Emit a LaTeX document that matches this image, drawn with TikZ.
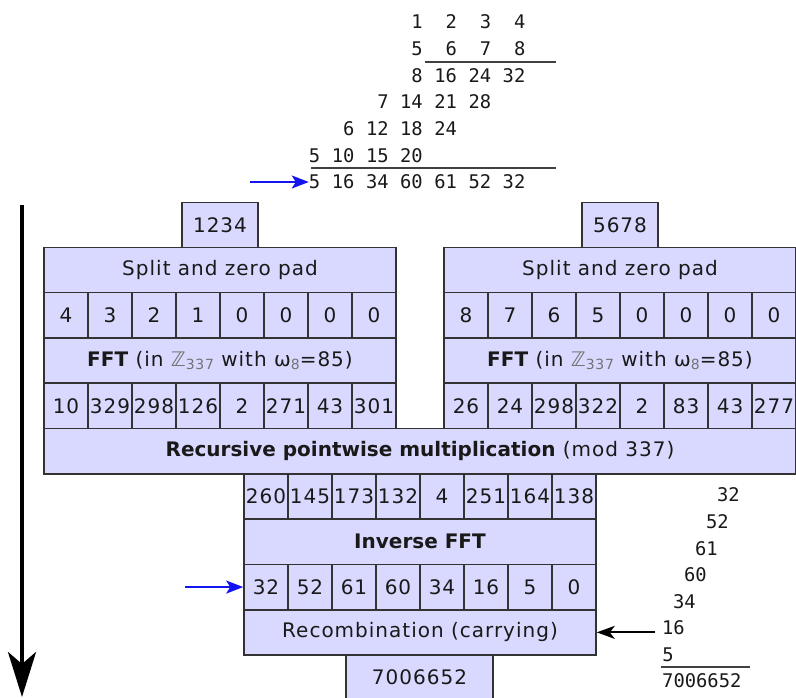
\documentclass[tikz,border=0pt]{standalone}
\usepackage{fontspec}
\setmainfont[LetterSpace=5, BoldFeatures={LetterSpace=0}]{DejaVu Sans}
\newfontfamily\digitfont{DejaVu Sans Mono}
\usetikzlibrary{arrows.meta}

\definecolor{boxblue}{RGB}{217,217,255}
\definecolor{pointblue}{RGB}{20,20,240}

\newcommand\lowtext[1]{\raisebox{-0.35ex}{\fontsize{14}{14}\selectfont #1}}
\newcommand\fftlabel{\textbf{FFT} (in {\color{black!55}ℤ\lowtext{337}} with ω{\color{black!55}\lowtext{8}}=85)}

\tikzset{
  box/.style={draw=black!80, fill=boxblue, line width=1.6pt, inner sep=0pt,
    font=\fontsize{20}{22}\selectfont, text=black!90},
  cell/.style={box, minimum width=44pt, minimum height=45.3pt},
  bar/.style={box, minimum width=352pt, minimum height=45.3pt},
  num/.style={font=\digitfont\fontsize{18.8}{20}\selectfont, inner sep=0pt, text=black!90},
  rule/.style={line width=1.3pt, draw=black!75},
  bluearrow/.style={line width=2pt, draw=pointblue, -{Stealth[length=17pt,width=13pt,inset=4pt]}},
  carryarrow/.style={line width=2pt, -{Stealth[length=18pt,width=13pt,inset=5pt]}},
  timearrow/.style={line width=4pt, -{Stealth[length=45pt,width=28pt,inset=12pt]}},
}

\begin{document}
\begin{tikzpicture}[x=1pt,y=-1pt]
    \useasboundingbox (0,0) rectangle (796,697);

    % Long multiplication by hand
    \foreach \r/\y/\c/\vals in {1/22/3/{1,2,3,4}, 2/48.7/3/{5,6,7,8},
        3/75.3/3/{8,16,24,32}, 4/102/2/{7,14,21,28}, 5/128.7/1/{6,12,18,24},
        6/155.3/0/{5,10,15,20}, 7/182/0/{5,16,34,60,61,52,32}}
      \foreach \v [count=\j from \c] in \vals
        \node[num, anchor=east] (m\r-\j) at (320.5+34.17*\j,\y) {\v};
    \draw[rule] (425,62) -- (556,62);
    \draw[rule] (311,168) -- (556,168);
    \coordinate (handin) at (250,182);
    \draw[bluearrow] (handin) -- (m7-0.west);

    % Time arrow
    \coordinate (tstart) at (22,205);
    \coordinate (tend) at (22,697);
    \draw[timearrow] (tstart) -- (tend);

    % First factor
    \node[cell, minimum width=76pt] (inA) at (220,225) {1234};
    \node[bar] (splitA) at (220,270) {Split and zero pad};
    \foreach \v [count=\i from 0] in {4,3,2,1,0,0,0,0}
      \node[cell] (a\i) at (66+44*\i,315.25) {\v};
    \node[bar] (fftA) at (220,360.55) {\fftlabel};
    \foreach \v [count=\i from 0] in {10,329,298,126,2,271,43,301}
      \node[cell] (fa\i) at (66+44*\i,405.85) {\v};

    % Second factor
    \node[cell, minimum width=76pt] (inB) at (620,225) {5678};
    \node[bar] (splitB) at (620,270) {Split and zero pad};
    \foreach \v [count=\i from 0] in {8,7,6,5,0,0,0,0}
      \node[cell] (b\i) at (466+44*\i,315.25) {\v};
    \node[bar] (fftB) at (620,360.55) {\fftlabel};
    \foreach \v [count=\i from 0] in {26,24,298,322,2,83,43,277}
      \node[cell] (fb\i) at (466+44*\i,405.85) {\v};

    % Pointwise product and inverse
    \node[box, minimum width=752pt, minimum height=45.3pt] (mult) at (420,451.15)
      {\textbf{Recursive pointwise multiplication} (mod 337)};
    \foreach \v [count=\i from 0] in {260,145,173,132,4,251,164,138}
      \node[cell] (p\i) at (266+44*\i,496.45) {\v};
    \node[bar] (ifft) at (420,541.75) {\textbf{Inverse FFT}};
    \foreach \v [count=\i from 0] in {32,52,61,60,34,16,5,0}
      \node[cell] (q\i) at (266+44*\i,587.05) {\v};
    \node[bar] (recomb) at (420,632.35) {Recombination (carrying)};
    \node[cell, minimum width=147pt] (result) at (419.5,677.65) {7006652};
    \coordinate (fftin) at (185,587.05);
    \draw[bluearrow] (fftin) -- (q0.west);

    % Carrying by hand
    \foreach \v [count=\k from 0] in {32,52,61,60,34,16,5}
      \node[num, anchor=east] (c\k) at (663+11*7-11*\k,495+26.6*\k) {\v};
    \draw[rule] (661,667) -- (750,667);
    \node[num, anchor=west] (sum) at (662,681) {7006652};
    \coordinate (carry) at ([xshift=-7pt]c5.west |- recomb.east);
    \draw[carryarrow] (carry) -- (recomb.east);
\end{tikzpicture}
\end{document}
